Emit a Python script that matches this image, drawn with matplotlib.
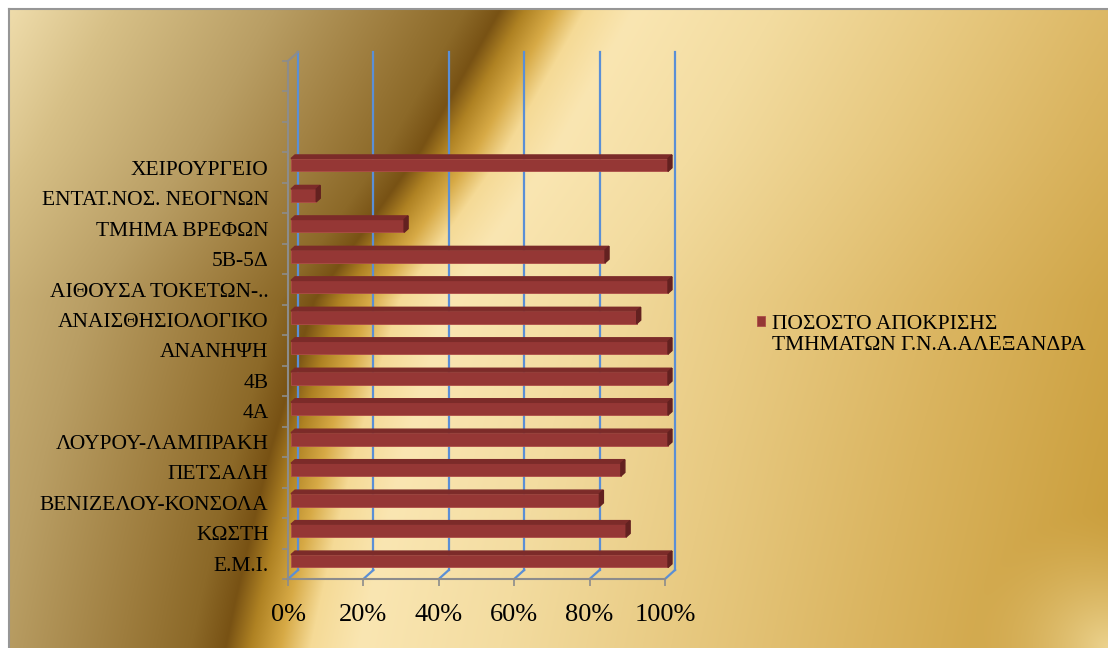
import numpy as np
import matplotlib.pyplot as plt
from matplotlib.patches import Polygon

plt.rcParams['font.family'] = ['Liberation Serif', 'DejaVu Serif']

departments = ['Ε.Μ.Ι.', 'ΚΩΣΤΗ', 'ΒΕΝΙΖΕΛΟΥ-ΚΟΝΣΟΛΑ', 'ΠΕΤΣΑΛΗ',
               'ΛΟΥΡΟΥ-ΛΑΜΠΡΑΚΗ', '4Α', '4Β', 'ΑΝΑΝΗΨΗ',
               'ΑΝΑΙΣΘΗΣΙΟΛΟΓΙΚΟ', 'ΑΙΘΟΥΣΑ ΤΟΚΕΤΩΝ-..', '5Β-5Δ',
               'ΤΜΗΜΑ ΒΡΕΦΩΝ', 'ΕΝΤΑΤ.ΝΟΣ. ΝΕΟΓΝΩΝ', 'ΧΕΙΡΟΥΡΓΕΙΟ']
response = [100, 88.9, 81.8, 87.5, 100, 100, 100, 100, 91.7, 100, 83.3,
            30, 6.7, 100]
n_slots = 17
xticks = [0, 20, 40, 60, 80, 100]
xtick_labels = ['0%', '20%', '40%', '60%', '80%', '100%']
series_name = 'ΠΟΣΟΣΤΟ ΑΠΟΚΡΙΣΗΣ\nΤΜΗΜΑΤΩΝ Γ.Ν.Α.ΑΛΕΞΑΝΔΡΑ'

W, H = 1108, 648
fig = plt.figure(figsize=(W / 100, H / 100), dpi=100)

# golden background: a curved dark stripe with a light band after it
yy, xx = np.mgrid[0:H, 0:W].astype(float)
bend = np.interp(yy, [0, 150, 300, 450, 600, 648], [0, 85, 191, 235, 270, 280])
u = xx + bend
stops = [0, 120, 280, 400, 470, 505, 530, 560, 590, 640, 780, 950, 1150, 1400]
cols = np.array([(242, 224, 176), (215, 192, 135), (185, 158, 100),
                 (158, 125, 62), (140, 105, 40), (120, 82, 20),
                 (175, 130, 35), (215, 170, 70), (245, 218, 150),
                 (250, 230, 178), (243, 220, 160), (232, 202, 130),
                 (218, 180, 95), (200, 155, 55)], float)
img = np.dstack([np.interp(u, stops, cols[:, c]) for c in range(3)])
d = np.hypot(xx - W, yy - H)
w = (np.clip(1 - d / 140, 0, 1) ** 1.5 * 0.8)[..., None]
img = img * (1 - w) + np.array([245, 225, 165]) * w
img[:9, :] = 255
img[:, :9] = 255
img = img / 255

bg = fig.add_axes([0, 0, 1, 1], zorder=0)
bg.imshow(img, extent=(0, W, H, 0), aspect='auto', interpolation='bilinear')
bg.plot([9, 9], [9, H], color='#969696', lw=1.5)
bg.plot([9, W], [9, 9], color='#969696', lw=1.5)
bg.set_xlim(0, W)
bg.set_ylim(H, 0)
bg.axis('off')

ax = fig.add_axes([288 / W, 1 - 579 / H, 377 / W, 518 / H], zorder=1)
ax.set_facecolor('none')
ax.set_xlim(0, 100)
ax.set_ylim(-0.5, n_slots - 0.5)
for s in ax.spines.values():
    s.set_visible(False)

# depth of the 3D box in data units (10px right, 9px up)
DX = 10 * 100 / 377
DY = 9 * n_slots / 518
y0, y1 = -0.5, n_slots - 0.5
grid_c = '#5a8fd6'
axis_c = '#8c8c8c'

for x in xticks:
    ax.plot([x + DX, x + DX], [y0 + DY, y1 + DY], color=grid_c, lw=1.6,
            clip_on=False, zorder=1)
    ax.plot([x, x + DX], [y0, y0 + DY], color=grid_c, lw=1.6,
            clip_on=False, zorder=1)
ax.plot([0, 100], [y0, y0], color=axis_c, lw=1.5, clip_on=False, zorder=2)
ax.plot([0, 0, DX], [y0, y1, y1 + DY], color=axis_c, lw=1.5,
        clip_on=False, zorder=2)

# bars with top and side faces
front_c, top_c, side_c = '#953735', '#7c2b29', '#632120'
bh = 0.42
ys = np.arange(len(departments))
fx, fy = 0.3 * DX, 0.3 * DY
bx, by = 0.4 * DX, 0.4 * DY
ax.barh(ys + fy, response, left=fx, height=bh, color=front_c,
        edgecolor='#ad4d48', linewidth=0.6, zorder=3, clip_on=False,
        label=series_name)
for yv, v in zip(ys + fy, response):
    top, bot = yv + bh / 2, yv - bh / 2
    ax.add_patch(Polygon([(fx, top), (fx + v, top), (fx + v + bx, top + by),
                          (fx + bx, top + by)], closed=True, color=top_c,
                         zorder=3, clip_on=False))
    ax.add_patch(Polygon([(fx + v, bot), (fx + v, top),
                          (fx + v + bx, top + by), (fx + v + bx, bot + by)],
                         closed=True, color=side_c, zorder=3, clip_on=False))

ax.set_yticks(ys)
ax.set_yticklabels(departments, fontsize=15.5)
ax.set_yticks(np.arange(y0, y1 + 0.1, 1), minor=True)
ax.tick_params(axis='y', which='major', length=0, pad=14)
ax.tick_params(axis='y', which='minor', length=4, width=1.2, color=axis_c)
ax.set_xticks(xticks)
ax.set_xticklabels(xtick_labels, fontsize=19)
ax.tick_params(axis='x', length=5, width=1.2, color=axis_c, pad=13)

leg = ax.legend(loc='center left', bbox_to_anchor=(757 / W, 1 - 335 / H),
                bbox_transform=fig.transFigure, frameon=False, fontsize=15.5,
                handlelength=0.37, handleheight=0.37, handletextpad=0.33,
                borderpad=0, borderaxespad=0)
# keep the legend square beside the first line of the label
sq = leg.legend_handles[0]
sq.set_y(sq.get_y() + 9.4)

fig.savefig('out.png', dpi=100)
